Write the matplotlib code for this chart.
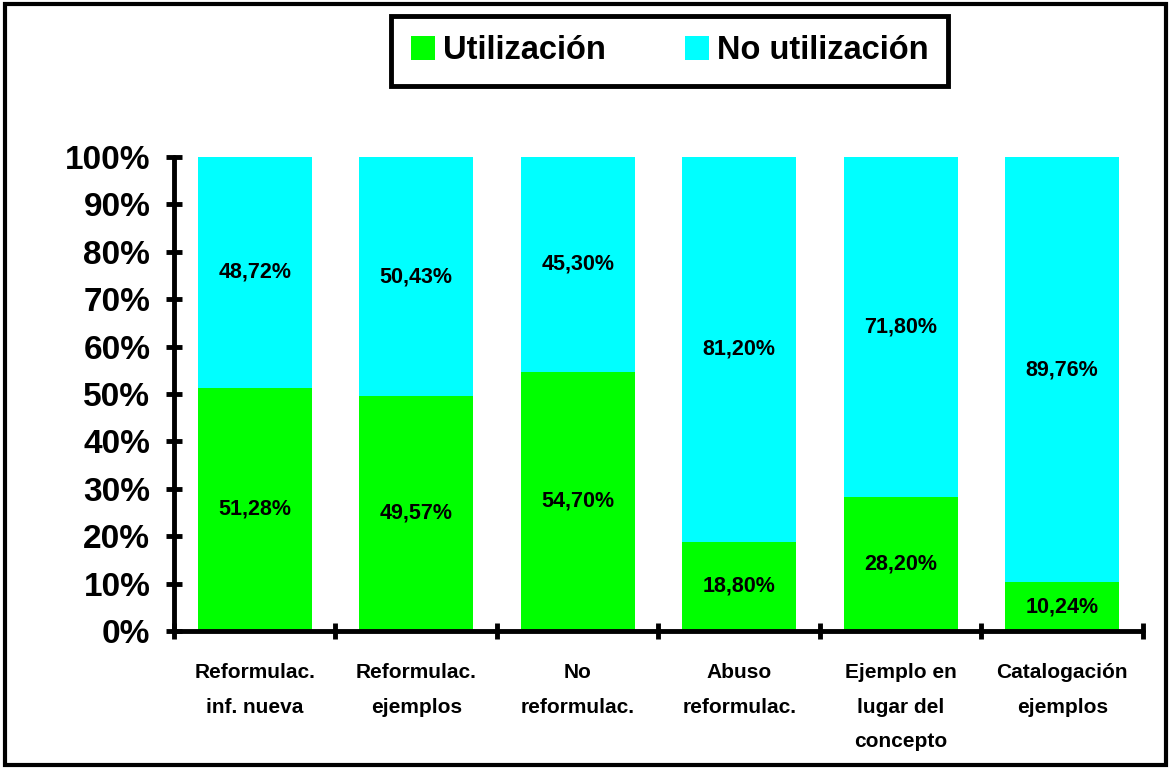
import matplotlib.pyplot as plt
from matplotlib.patches import Rectangle
from matplotlib.ticker import FixedLocator
from matplotlib.font_manager import FontProperties

plt.rcParams['font.family'] = ['Liberation Sans', 'DejaVu Sans']
plt.rcParams['font.weight'] = 'bold'

categorias = ['Reformulac.\ninf. nueva', 'Reformulac.\nejemplos', 'No\nreformulac.',
              'Abuso\nreformulac.', 'Ejemplo en\nlugar del\nconcepto', 'Catalogación\nejemplos']
utilizacion = [51.28, 49.57, 54.70, 18.80, 28.20, 10.24]
no_utilizacion = [48.72, 50.43, 45.30, 81.20, 71.80, 89.76]
series = ['Utilización', 'No utilización']
y_ticks = [0, 10, 20, 30, 40, 50, 60, 70, 80, 90, 100]

verde = '#00ff00'
cian = '#00ffff'

fig = plt.figure(figsize=(11.73, 7.69), dpi=100)
ax = fig.add_axes([0.1483, 0.1795, 0.9744 - 0.1483, 0.7958 - 0.1795])

pos = list(range(len(categorias)))
b1 = ax.bar(pos, utilizacion, width=0.706, color=verde, label=series[0])
b2 = ax.bar(pos, no_utilizacion, width=0.706, bottom=utilizacion, color=cian, label=series[1])

for i in pos:
    ax.text(i, utilizacion[i] / 2, f'{utilizacion[i]:.2f}%'.replace('.', ','),
            ha='center', va='center', fontsize=15.5, fontweight='bold')
    ax.text(i, utilizacion[i] + no_utilizacion[i] / 2, f'{no_utilizacion[i]:.2f}%'.replace('.', ','),
            ha='center', va='center', fontsize=15.5, fontweight='bold')

ax.set_xlim(-0.5, len(categorias) - 0.5)
ax.set_ylim(0, 100)
ax.set_yticks(y_ticks)
ax.set_yticklabels([f'{t}%' for t in y_ticks], fontsize=24, fontweight='bold')

# ticks mayores en los bordes de categoria, etiquetas en el centro
ax.xaxis.set_major_locator(FixedLocator([p - 0.5 for p in pos] + [len(pos) - 0.5]))
ax.xaxis.set_major_formatter(plt.NullFormatter())
ax.set_xticks(pos, minor=True)
ax.set_xticklabels(categorias, minor=True, fontsize=15, fontweight='bold', linespacing=2.05)
ax.tick_params(axis='x', which='minor', length=0, pad=23)
ax.tick_params(axis='both', which='major', direction='inout', length=12, width=3.5)
ax.tick_params(axis='y', pad=11)

for s in ['top', 'right']:
    ax.spines[s].set_visible(False)
for s in ['left', 'bottom']:
    ax.spines[s].set_linewidth(3.5)
    ax.spines[s].set_capstyle('round')

fp = FontProperties(family='Liberation Sans', weight='bold', size=23.5)
leg = fig.legend(handles=[b1, b2], loc='center', bbox_to_anchor=(0.571, 0.934),
                 ncol=2, prop=fp, frameon=True, fancybox=False, framealpha=1,
                 handlelength=0.75, handleheight=0.75, handletextpad=0.25,
                 columnspacing=2.4, borderpad=0.6, edgecolor='black')
leg.get_frame().set_linewidth(3.5)

fig.patches.append(Rectangle((0.004, 0.005), 0.99, 0.99, transform=fig.transFigure,
                             fill=False, edgecolor='black', linewidth=3))

fig.savefig('out.png', dpi=100)
